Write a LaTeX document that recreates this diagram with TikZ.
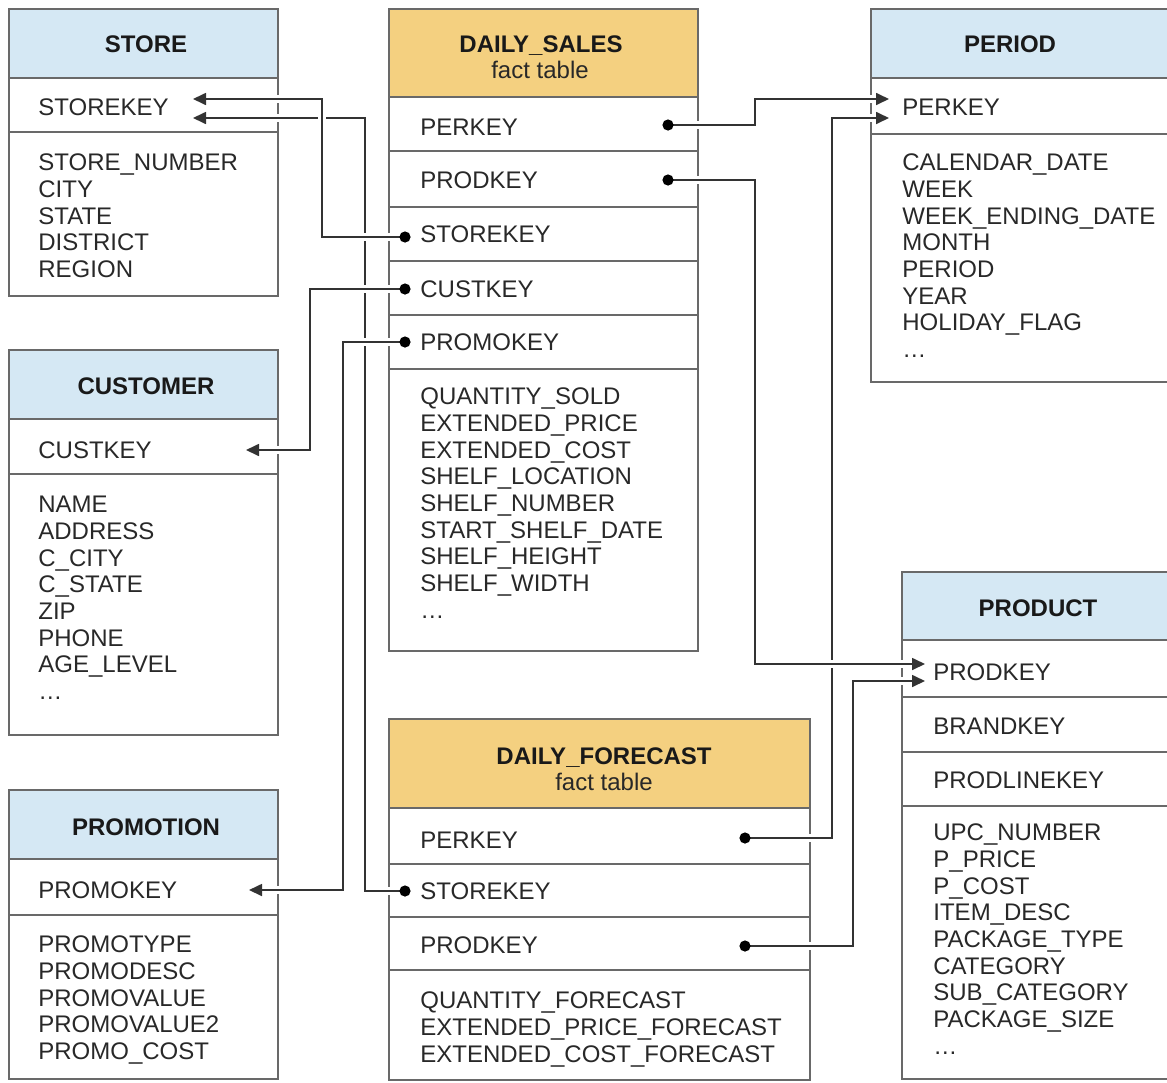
\documentclass[tikz,border=0pt]{standalone}
\usepackage{fontspec}
\setmainfont{Liberation Sans}
\usetikzlibrary{arrows.meta,calc}

\definecolor{dimblue}{RGB}{213,232,244}
\definecolor{factgold}{RGB}{244,208,128}
\definecolor{rulegray}{RGB}{105,105,105}
\definecolor{ink}{RGB}{40,40,40}

\tikzset{
        every node/.style={font=\fontsize{12}{14}\selectfont, inner sep=0pt,
          text height=8.6pt, text depth=0pt},
        box/.style={draw=rulegray, line width=1pt},
        title/.style={font=\fontsize{12}{14}\selectfont\bfseries, text=black!90},
        sub/.style={text=ink},
        col/.style={anchor=west, text=ink},
        link/.style={draw=black!80, line width=0.85pt,
          preaction={draw=white, line width=4pt, -}},
        ref/.style={link, -{Triangle[length=6.5pt,width=6pt]}},
}

% fill colour, x1, y1, x2, y2, header bottom, row rules
\newcommand{\tablebox}[7]{%
        \fill[#1] (#2,#3) rectangle (#4,#6);
        \draw[box] (#2,#3) rectangle (#4,#5);
        \foreach \r in {#6,#7} \draw[box] (#2,\r) -- (#4,\r);}

% name, x, first y, column names
\newcommand{\attrlist}[4]{%
        \foreach \a [count=\i from 0] in {#4}
          \node[col] (#1-\i) at (#2,#3+26.7*\i) {\a};}

\begin{document}
\begin{tikzpicture}[x=0.5pt, y=-0.5pt]
        \useasboundingbox (0,0) rectangle (1167,1082);
        \clip (0,0) rectangle (1167,1082);

        % dimension tables
        \tablebox{dimblue}{9}{9}{278}{296}{78}{132}
        \tablebox{dimblue}{9}{350}{278}{735}{419}{474}
        \tablebox{dimblue}{9}{790}{278}{1079}{859}{915}
        \tablebox{dimblue}{871}{9}{1180}{382}{78}{134}
        \tablebox{dimblue}{902}{572}{1180}{1079}{640}{697,752,806}
        % fact tables
        \tablebox{factgold}{389}{9}{698}{651}{97}{151,207,261,315,369}
        \tablebox{factgold}{389}{719}{810}{1080}{808}{864,917,970}

        % STORE
        \node[title] (store) at (146,44) {STORE};
        \node[col] (store-key) at (38,107) {STOREKEY};
        \attrlist{store}{38}{162}{STORE\_NUMBER, CITY, STATE, DISTRICT, REGION}

        % CUSTOMER
        \node[title] (cust) at (146,386) {CUSTOMER};
        \node[col] (cust-key) at (38,450) {CUSTKEY};
        \attrlist{cust}{38}{504}{NAME, ADDRESS, C\_CITY, C\_STATE, ZIP, PHONE,
          AGE\_LEVEL, \dots}

        % PROMOTION
        \node[title] (promo) at (146,827) {PROMOTION};
        \node[col] (promo-key) at (38,890) {PROMOKEY};
        \attrlist{promo}{38}{944}{PROMOTYPE, PROMODESC, PROMOVALUE, PROMOVALUE2,
          PROMO\_COST}

        % DAILY_SALES
        \node[title] (ds) at (541,44) {DAILY\_SALES};
        \node[sub] (ds-sub) at (540,70) {fact table};
        \node[col] (ds-per) at (420,127) {PERKEY};
        \node[col] (ds-prod) at (420,180) {PRODKEY};
        \node[col] (ds-store) at (420,234) {STOREKEY};
        \node[col] (ds-cust) at (420,289) {CUSTKEY};
        \node[col] (ds-promo) at (420,342) {PROMOKEY};
        \attrlist{ds}{420}{396}{QUANTITY\_SOLD, EXTENDED\_PRICE, EXTENDED\_COST,
          SHELF\_LOCATION, SHELF\_NUMBER, START\_SHELF\_DATE, SHELF\_HEIGHT,
          SHELF\_WIDTH, \dots}

        % PERIOD
        \node[title] (per) at (1010,44) {PERIOD};
        \node[col] (per-key) at (902,107) {PERKEY};
        \attrlist{per}{902}{162}{CALENDAR\_DATE, WEEK, WEEK\_ENDING\_DATE, MONTH,
          PERIOD, YEAR, HOLIDAY\_FLAG, \dots}

        % PRODUCT
        \node[title] (prod) at (1038,608) {PRODUCT};
        \node[col] (prod-key) at (933,672) {PRODKEY};
        \node[col] (prod-brand) at (933,726) {BRANDKEY};
        \node[col] (prod-line) at (933,780) {PRODLINEKEY};
        \attrlist{prod}{933}{832}{UPC\_NUMBER, P\_PRICE, P\_COST, ITEM\_DESC,
          PACKAGE\_TYPE, CATEGORY, SUB\_CATEGORY, PACKAGE\_SIZE, \dots}

        % DAILY_FORECAST
        \node[title] (df) at (604,756) {DAILY\_FORECAST};
        \node[sub] (df-sub) at (604,782) {fact table};
        \node[col] (df-per) at (420,840) {PERKEY};
        \node[col] (df-store) at (420,891) {STOREKEY};
        \node[col] (df-prod) at (420,945) {PRODKEY};
        \attrlist{df}{420}{1000}{QUANTITY\_FORECAST, EXTENDED\_PRICE\_FORECAST,
          EXTENDED\_COST\_FORECAST}

        % foreign key ends and key targets
        \coordinate (ds-per-dot) at (668,125);
        \coordinate (ds-prod-dot) at (668,180);
        \coordinate (ds-store-dot) at (405,237);
        \coordinate (ds-cust-dot) at (405,289);
        \coordinate (ds-promo-dot) at (405,342);
        \coordinate (df-per-dot) at (745,838);
        \coordinate (df-store-dot) at (405,891);
        \coordinate (df-prod-dot) at (745,946);
        \coordinate (store-in1) at (193,99);
        \coordinate (store-in2) at (193,118);
        \coordinate (cust-in) at (246,450);
        \coordinate (promo-in) at (249,890);
        \coordinate (per-in1) at (889,99);
        \coordinate (per-in2) at (889,118);
        \coordinate (prod-in1) at (925,664);
        \coordinate (prod-in2) at (925,681);

        % left side links
        \draw[ref] (df-store-dot) -- ++(-40,0) |- (store-in2);
        \draw[ref] (ds-store-dot) -- ++(-83,0) |- (store-in1);
        \draw[ref] (ds-cust-dot) -- ++(-95,0) |- (cust-in);
        \draw[ref] (ds-promo-dot) -- ++(-62,0) |- (promo-in);
        % right side links
        \draw[ref] (df-per-dot) -- ++(87,0) |- (per-in2);
        \draw[ref] (ds-per-dot) -- ++(87,0) |- (per-in1);
        \draw[ref] (ds-prod-dot) -- ++(87,0) |- (prod-in1);
        \draw[ref] (df-prod-dot) -- ++(108,0) |- (prod-in2);

        \foreach \d in {ds-per,ds-prod,ds-store,ds-cust,ds-promo,df-per,df-store,df-prod}
          \fill (\d-dot) circle (2.8pt);
\end{tikzpicture}
\end{document}
